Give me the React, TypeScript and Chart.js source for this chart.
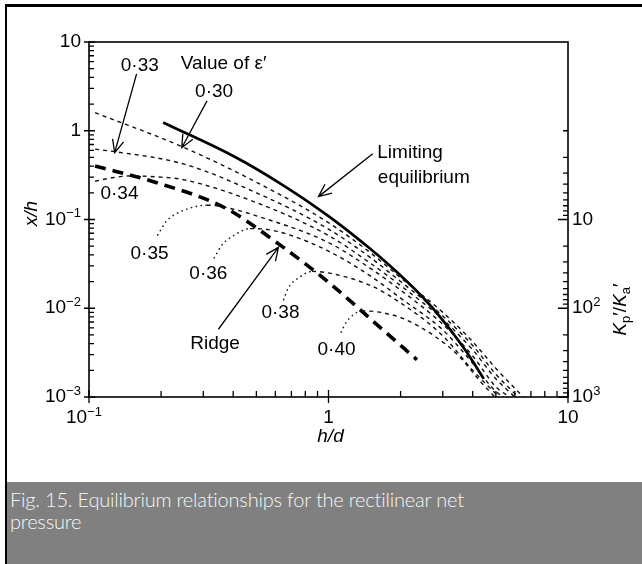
import React, { useEffect, useRef } from "react";
import { Chart, registerables } from "chart.js";

Chart.register(...registerables);

const FONT = '"Liberation Sans", Arial, Helvetica, sans-serif';

// ---- axis ranges ----
const xRange = [0.1, 10];
const yRange = [0.001, 10];
const kRange = [0.1, 1000];

// ---- limiting equilibrium (solid) ----
const limitX = [0.204, 0.411, 0.674, 1, 1.45, 1.81, 2.3, 2.8, 3.68, 4.45];
const limitY = [1.24, 0.5, 0.226, 0.109, 0.05, 0.03, 0.0163, 0.0092, 0.00355, 0.0016];

// ---- ridge (thick dashed) ----
const ridgeX = [0.106, 0.183, 0.372, 0.623, 1, 1.61, 2.34];
const ridgeY = [0.4, 0.27, 0.134, 0.0524, 0.0196, 0.00638, 0.00263];

// ---- curves for values of epsilon' ----
const e030X = [0.106, 0.245, 0.5, 1, 1.5, 2, 3, 4, 5, 6.5];
const e030Y = [1.6, 0.66, 0.263, 0.092, 0.042, 0.022, 0.009, 0.0042, 0.0021, 0.001];

const e033X = [0.106, 0.129, 0.25, 0.5, 1, 1.5, 2, 3, 4, 5, 6.2];
const e033Y = [0.62, 0.58, 0.42, 0.2, 0.078, 0.037, 0.02, 0.0082, 0.0038, 0.0018, 0.001];

const e034X = [0.106, 0.125, 0.15, 0.2, 0.25, 0.5, 1, 1.5, 2, 3, 4, 5, 6];
const e034Y = [0.27, 0.295, 0.31, 0.3, 0.28, 0.155, 0.066, 0.032, 0.018, 0.0075, 0.0034, 0.0016, 0.001];

const e035X = [0.193, 0.21, 0.24, 0.28, 0.31, 0.38, 0.5, 1, 1.5, 2, 3, 4, 5, 5.7];
const e035Y = [0.066, 0.095, 0.122, 0.14, 0.145, 0.135, 0.11, 0.055, 0.028, 0.016, 0.0066, 0.0029, 0.0013, 0.001];

const e036X = [0.332, 0.36, 0.41, 0.47, 0.56, 0.7, 1, 1.5, 2, 3, 4, 5, 5.4];
const e036Y = [0.0364, 0.052, 0.068, 0.079, 0.077, 0.066, 0.044, 0.023, 0.013, 0.0057, 0.0024, 0.00115, 0.001];

const e038X = [0.648, 0.68, 0.75, 0.854, 1, 1.5, 2, 3, 4, 5.15];
const e038Y = [0.0123, 0.017, 0.022, 0.026, 0.025, 0.018, 0.0115, 0.0049, 0.002, 0.001];

const e040X = [1.126, 1.18, 1.26, 1.37, 1.6, 2.04, 2.79, 3.5, 4.3, 4.95];
const e040Y = [0.0053, 0.0068, 0.0083, 0.0093, 0.0091, 0.0077, 0.0048, 0.0029, 0.0015, 0.001];

// index of the peak of each curve: the rising part before it is dotted
const curveXs = [e030X, e033X, e034X, e035X, e036X, e038X, e040X];
const curveYs = [e030Y, e033Y, e034Y, e035Y, e036Y, e038Y, e040Y];
const curvePeaks = [0, 0, 0, 4, 3, 3, 3];

// ---- annotation texts (positions in data coordinates) ----
const noteTexts = ["0·33", "Value of ε′", "0·30", "0·34", "0·35", "0·36", "0·38", "Ridge", "0·40", "Limiting", "equilibrium"];
const noteX = [0.163, 0.365, 0.333, 0.134, 0.179, 0.315, 0.63, 0.336, 1.08, 2.19, 2.5];
const noteY = [5.37, 5.66, 2.77, 0.195, 0.0415, 0.0247, 0.009, 0.00394, 0.00344, 0.566, 0.296];

// ---- arrows (from -> to, data coordinates) ----
const arrowFromX = [0.158, 0.311, 1.53, 0.347];
const arrowFromY = [4.37, 2.17, 0.552, 0.0058];
const arrowToX = [0.128, 0.244, 0.908, 0.618];
const arrowToY = [0.566, 0.644, 0.181, 0.0485];

type Part = { t: string; f: string; dy?: number };

function rich(ctx: CanvasRenderingContext2D, parts: Part[], x: number, y: number, align: string) {
  let w = 0;
  for (const p of parts) {
    ctx.font = p.f;
    w += ctx.measureText(p.t).width;
  }
  let cx = align === "left" ? x : align === "right" ? x - w : x - w / 2;
  ctx.textAlign = "left";
  ctx.textBaseline = "middle";
  for (const p of parts) {
    ctx.font = p.f;
    ctx.fillText(p.t, cx, y + (p.dy || 0));
    cx += ctx.measureText(p.t).width;
  }
}

const MAIN = `19px ${FONT}`;
const SMALL = `13px ${FONT}`;
const ITAL = `italic 19px ${FONT}`;

function powParts(e: number): Part[] {
  if (e === 0) return [{ t: "1", f: MAIN }];
  if (e === 1) return [{ t: "10", f: MAIN }];
  return [
    { t: "10", f: MAIN },
    { t: e < 0 ? "−" + -e : String(e), f: SMALL, dy: -6 },
  ];
}

function arrow(ctx: CanvasRenderingContext2D, x1: number, y1: number, x2: number, y2: number) {
  ctx.beginPath();
  ctx.moveTo(x1, y1);
  ctx.lineTo(x2, y2);
  const a = Math.atan2(y2 - y1, x2 - x1);
  const L = 14;
  const s = 0.42;
  ctx.moveTo(x2 - L * Math.cos(a - s), y2 - L * Math.sin(a - s));
  ctx.lineTo(x2, y2);
  ctx.lineTo(x2 - L * Math.cos(a + s), y2 - L * Math.sin(a + s));
  ctx.stroke();
}

const decor = {
  id: "decor",
  afterDraw(chart: any) {
    const ctx: CanvasRenderingContext2D = chart.ctx;
    const xs = chart.scales.x;
    const ys = chart.scales.y;
    const ks = chart.scales.y2;
    const { left, right, top, bottom } = chart.chartArea;
    ctx.save();
    ctx.strokeStyle = "#000";
    ctx.fillStyle = "#000";
    ctx.lineWidth = 1.6;
    ctx.strokeRect(left, top, right - left, bottom - top);

    ctx.lineWidth = 1.3;
    ctx.beginPath();
    // bottom axis ticks
    for (let e = -1; e <= 1; e++) {
      for (let m = 1; m <= 9; m++) {
        const v = m * Math.pow(10, e);
        if (v > xRange[1] * 1.0001) break;
        const p = xs.getPixelForValue(v);
        const major = m === 1;
        ctx.moveTo(p, bottom - (major ? 7 : 6));
        ctx.lineTo(p, bottom + (major ? 6 : 0));
      }
    }
    // left axis ticks
    for (let e = -3; e <= 1; e++) {
      for (let m = 1; m <= 9; m++) {
        const v = m * Math.pow(10, e);
        if (v > yRange[1] * 1.0001) break;
        const p = ys.getPixelForValue(v);
        const major = m === 1;
        ctx.moveTo(left - (major ? 5 : 0), p);
        ctx.lineTo(left + (major ? 6 : 5), p);
      }
    }
    // right axis ticks (K from 1 to 1000)
    for (let e = 0; e <= 3; e++) {
      for (let m = 1; m <= 9; m++) {
        const v = m * Math.pow(10, e);
        if (v > kRange[1] * 1.0001) break;
        const p = ks.getPixelForValue(v);
        const major = m === 1 && e >= 1;
        ctx.moveTo(right - (major ? 10 : 5), p);
        ctx.lineTo(right, p);
      }
    }
    ctx.stroke();

    // tick labels
    for (let e = -3; e <= 1; e++) {
      rich(ctx, powParts(e), left - 8, ys.getPixelForValue(Math.pow(10, e)), "right");
    }
    for (let e = -1; e <= 1; e++) {
      const p = xs.getPixelForValue(Math.pow(10, e));
      rich(ctx, powParts(e), p + (e < 0 ? -5 : 0), bottom + 21, "center");
    }
    for (let e = 1; e <= 3; e++) {
      rich(ctx, powParts(e), right + 4, ks.getPixelForValue(Math.pow(10, e)), "left");
    }

    // axis titles
    rich(ctx, [{ t: "h/d", f: ITAL }], (left + right) / 2 + 2, bottom + 40, "center");
    ctx.save();
    ctx.translate(left - 57, (top + bottom) / 2 - 6);
    ctx.rotate(-Math.PI / 2);
    rich(ctx, [{ t: "x/h", f: ITAL }], 0, 0, "center");
    ctx.restore();
    ctx.save();
    ctx.translate(right + 53, (top + bottom) / 2 + 90);
    ctx.rotate(-Math.PI / 2);
    rich(
      ctx,
      [
        { t: "K", f: ITAL },
        { t: "p", f: SMALL, dy: 5 },
        { t: "′/", f: MAIN },
        { t: "K", f: ITAL },
        { t: "a", f: SMALL, dy: 5 },
        { t: "′", f: MAIN },
      ],
      0,
      0,
      "center"
    );
    ctx.restore();

    // annotations
    for (let i = 0; i < noteTexts.length; i++) {
      rich(ctx, [{ t: noteTexts[i], f: MAIN }], xs.getPixelForValue(noteX[i]), ys.getPixelForValue(noteY[i]), "center");
    }
    ctx.lineWidth = 1.3;
    for (let i = 0; i < arrowFromX.length; i++) {
      arrow(
        ctx,
        xs.getPixelForValue(arrowFromX[i]),
        ys.getPixelForValue(arrowFromY[i]),
        xs.getPixelForValue(arrowToX[i]),
        ys.getPixelForValue(arrowToY[i])
      );
    }
    ctx.restore();
  },
};

function pts(xa: number[], ya: number[]) {
  return xa.map((x, i) => ({ x, y: ya[i] }));
}

export default function App() {
  const ref = useRef<HTMLCanvasElement | null>(null);

  useEffect(() => {
    if (!ref.current) return;
    const datasets: any[] = curveXs.map((xa, ci) => ({
      data: pts(xa, curveYs[ci]),
      borderColor: "#111",
      borderWidth: 1.4,
      pointRadius: 0,
      fill: false,
      cubicInterpolationMode: "monotone",
      segment: {
        borderDash: (c: any) => (c.p0DataIndex < curvePeaks[ci] ? [1.6, 3.4] : [4, 4]),
      },
    }));
    datasets.push({
      data: pts(ridgeX, ridgeY),
      borderColor: "#000",
      borderWidth: 3.6,
      borderDash: [11, 7],
      pointRadius: 0,
      fill: false,
      cubicInterpolationMode: "monotone",
    });
    datasets.push({
      data: pts(limitX, limitY),
      borderColor: "#000",
      borderWidth: 2.7,
      pointRadius: 0,
      fill: false,
      tension: 0.4,
    });

    const chart = new Chart(ref.current, {
      type: "scatter",
      data: { datasets },
      options: {
        responsive: false,
        animation: false,
        showLine: true,
        layout: { padding: { top: 42, left: 0, right: 0, bottom: 0 } },
        plugins: { legend: { display: false }, tooltip: { enabled: false } },
        scales: {
          x: {
            type: "logarithmic",
            position: "bottom",
            min: xRange[0],
            max: xRange[1],
            grid: { display: false },
            border: { display: false },
            ticks: { display: false },
            afterFit: (s: any) => {
              s.height = 83;
            },
          },
          y: {
            type: "logarithmic",
            position: "left",
            min: yRange[0],
            max: yRange[1],
            grid: { display: false },
            border: { display: false },
            ticks: { display: false },
            afterFit: (s: any) => {
              s.width = 89;
            },
          },
          y2: {
            type: "logarithmic",
            position: "right",
            reverse: true,
            min: kRange[0],
            max: kRange[1],
            grid: { display: false },
            border: { display: false },
            ticks: { display: false },
            afterFit: (s: any) => {
              s.width = 74;
            },
          },
        },
      } as any,
      plugins: [decor],
    });
    return () => chart.destroy();
  }, []);

  return (
    <div
      style={{
        position: "absolute",
        left: 0,
        top: 0,
        width: 642,
        height: 564,
        overflow: "hidden",
        background: "#fff",
      }}
    >
      <canvas ref={ref} width={642} height={480} style={{ position: "absolute", left: 0, top: 0, display: "block" }} />
      <div style={{ position: "absolute", left: 5, top: 4, width: 700, height: 3, background: "#000" }} />
      <div style={{ position: "absolute", left: 5, top: 4, width: 2, height: 600, background: "#000" }} />
      <div
        style={{
          position: "absolute",
          left: 7,
          top: 482,
          width: 635,
          height: 82,
          background: "#808080",
          color: "#f7f7f7",
          fontFamily: "Lato, 'Open Sans', sans-serif",
          fontWeight: 300,
          fontSize: 20,
          letterSpacing: "-0.2px",
          lineHeight: "22px",
          padding: "6px 0 0 3px",
          boxSizing: "border-box",
        }}
      >
        Fig. 15. Equilibrium relationships for the rectilinear net
        <br />
        pressure
      </div>
    </div>
  );
}
